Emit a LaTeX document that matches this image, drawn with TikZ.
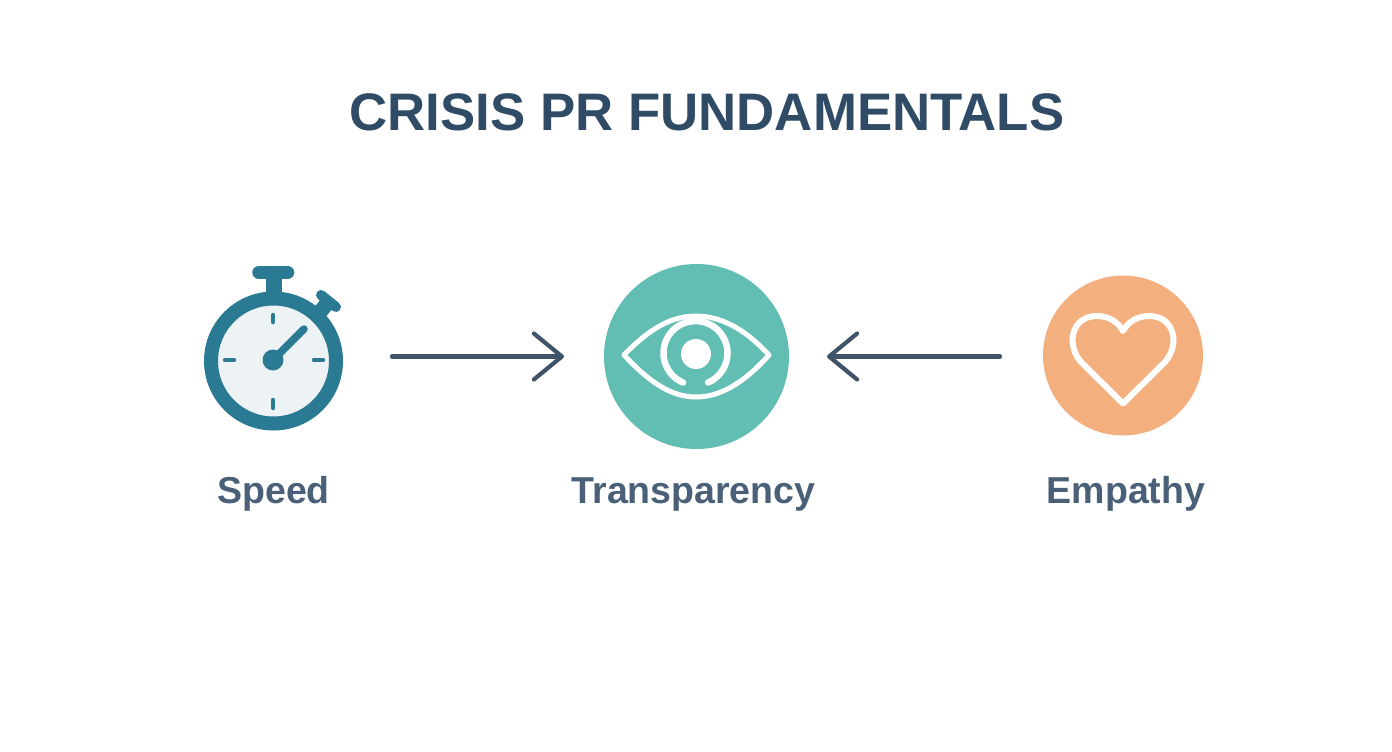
\documentclass[tikz,border=0pt]{standalone}
\usepackage{fontspec}
\setmainfont{Liberation Sans}
\usetikzlibrary{arrows.meta}
\definecolor{titleC}{HTML}{2F4B66}
\definecolor{labelC}{HTML}{4A6078}
\definecolor{arrowC}{HTML}{3F5468}
\definecolor{watchC}{HTML}{2A7A93}
\definecolor{faceC}{HTML}{EDF3F4}
\definecolor{tealC}{HTML}{62BDB3}
\definecolor{orangeC}{HTML}{F3B07E}
\tikzset{
  titletext/.style={font=\fontsize{52.8}{60}\selectfont\bfseries,text=titleC,inner sep=0,anchor=center},
  labeltext/.style={font=\fontsize{37.5}{40}\selectfont\bfseries,text=labelC,inner sep=0,anchor=base},
  disc/.style={circle,inner sep=0,outer sep=0,minimum size=#1},
  flow/.style={arrowC,line width=4.2pt,line cap=round,line join=round,-{Straight Barb[round,length=28pt,width=46pt,line width=4.2pt]}},
  watchpart/.style={watchC,line cap=round},
  white line/.style={white,line width=#1,line cap=round,line join=round},
}
\begin{document}
\begin{tikzpicture}[x=1pt,y=-1pt]
\useasboundingbox (0,0) rectangle (1392,752);
\fill[white] (0,0) rectangle (1392,752);
\node[titletext] (title) at (707,112) {CRISIS PR FUNDAMENTALS};
% stopwatch
\draw[watchpart,line width=16pt,line cap=butt] (274,298) -- (274,272);
\draw[watchpart,line width=13.5pt,line cap=round] (259,272.5) -- (287.5,272.5);
\draw[watchpart,line width=15pt,line cap=butt] (316,317) -- (329,301);
\draw[watchpart,line width=10pt] (321,295) -- (336,307);
\node[disc=125pt,draw=watchC,line width=14pt,fill=faceC] (speed) at (273.5,361) {};
\draw[watchpart,line width=4.5pt] (273,315) -- (273,322);
\draw[watchpart,line width=4.5pt] (273,400) -- (273,408);
\draw[watchpart,line width=4.5pt] (225,360) -- (234,360);
\draw[watchpart,line width=4.5pt] (314,360) -- (323,360);
\draw[watchpart,line width=7.5pt] (273,360) -- (304,329);
\fill[watchC] (273,360) circle[radius=10.5];
% eye
\node[disc=185pt,fill=tealC] (transparency) at (696.5,356.5) {};
\draw[white line=5pt] (624,355) .. controls (650,328) and (672,316) .. (696,316) .. controls (720,316) and (744,328) .. (769,355) .. controls (744,383) and (720,397) .. (696,397) .. controls (672,397) and (650,383) .. (624,355) -- cycle;
\draw[white line=6.5pt] (683,382.5) arc[start angle=113,end angle=427,radius=32];
\fill[white] (696,354) circle[radius=15];
% heart
\node[disc=160pt,fill=orangeC] (empathy) at (1123,355.5) {};
\draw[white line=6pt] (1123,403.5) -- (1082,363) .. controls (1066,347) and (1070,316) .. (1097,316) .. controls (1109,316) and (1118,322) .. (1123,331) .. controls (1128,322) and (1137,316) .. (1149,316) .. controls (1176,316) and (1180,347) .. (1164,363) -- cycle;
% labels
\node[labeltext] (speedlabel) at (273.5,503) {Speed};
\node[labeltext] (translabel) at (693.5,503) {Transparency};
\node[labeltext] (emplabel) at (1126,503) {Empathy};
% connectors
\coordinate (startA) at (392,356.5);
\coordinate (startB) at (1000,356.5);
\draw[flow,shorten >=40pt] (startA) -- (transparency.west);
\draw[flow,shorten >=38pt] (startB) -- (transparency.east);
\end{tikzpicture}
\end{document}
